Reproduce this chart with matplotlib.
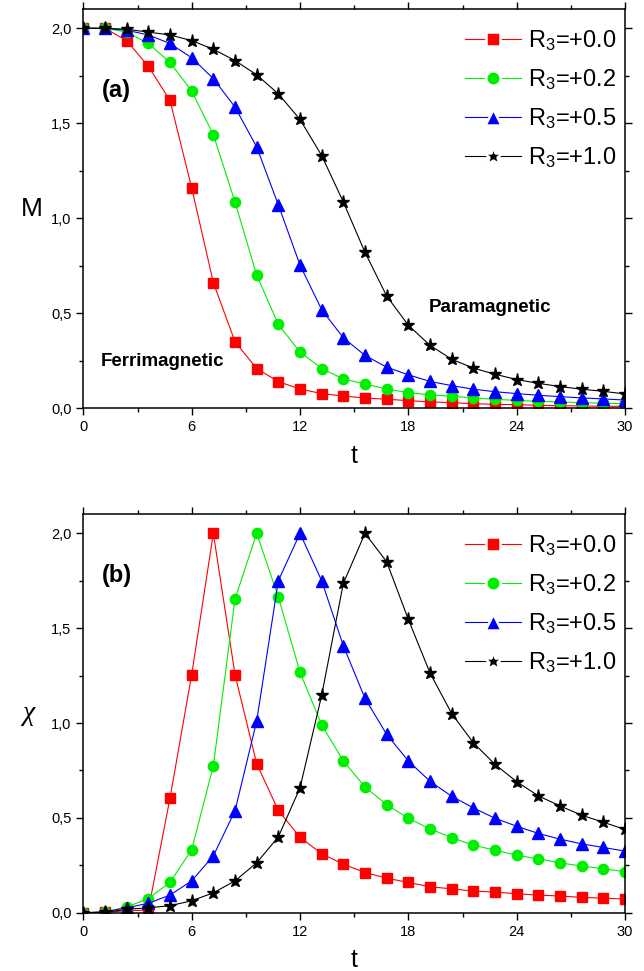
import numpy as np
import matplotlib
matplotlib.use('Agg')
import matplotlib.pyplot as plt
from matplotlib.ticker import MultipleLocator, FuncFormatter

plt.rcParams['font.family'] = ['Liberation Sans', 'DejaVu Sans']
plt.rcParams['mathtext.fontset'] = 'custom'
plt.rcParams['mathtext.rm'] = 'Liberation Sans'
plt.rcParams['mathtext.it'] = 'Liberation Sans:italic'

# temperature grid
t = [0.0, 1.2, 2.4, 3.6, 4.8, 6.0, 7.2, 8.4, 9.6, 10.8, 12.0, 13.2, 14.4,
     15.6, 16.8, 18.0, 19.2, 20.4, 21.6, 22.8, 24.0, 25.2, 26.4, 27.6, 28.8, 30.0]

labels = ['R$_3$=+0.0', 'R$_3$=+0.2', 'R$_3$=+0.5', 'R$_3$=+1.0']

# magnetization (a)
M_00 = [2.0, 2.0, 1.935, 1.80, 1.62, 1.16, 0.661, 0.349, 0.208, 0.139, 0.10, 0.076, 0.063,
        0.053, 0.046, 0.039, 0.032, 0.028, 0.023, 0.019, 0.018, 0.014, 0.012, 0.011, 0.009, 0.009]
M_02 = [2.0, 2.0, 1.98, 1.92, 1.82, 1.67, 1.44, 1.085, 0.70, 0.44, 0.295, 0.208, 0.153,
        0.127, 0.10, 0.081, 0.07, 0.062, 0.053, 0.046, 0.04, 0.035, 0.032, 0.028, 0.025, 0.023]
M_05 = [2.0, 2.0, 1.99, 1.965, 1.92, 1.845, 1.735, 1.585, 1.375, 1.07, 0.753, 0.518, 0.37,
        0.277, 0.215, 0.175, 0.14, 0.118, 0.099, 0.086, 0.076, 0.067, 0.06, 0.053, 0.048, 0.042]
M_10 = [2.0, 2.0, 1.995, 1.98, 1.965, 1.935, 1.89, 1.83, 1.755, 1.655, 1.52, 1.33, 1.085,
        0.82, 0.59, 0.436, 0.33, 0.257, 0.21, 0.178, 0.15, 0.13, 0.113, 0.099, 0.088, 0.074]

# susceptibility (b)
X_00 = [0.0, 0.002, 0.01, 0.014, 0.604, 1.255, 2.0, 1.255, 0.786, 0.539, 0.398, 0.311, 0.256,
        0.212, 0.182, 0.16, 0.137, 0.126, 0.114, 0.109, 0.1, 0.093, 0.088, 0.081, 0.077, 0.072]
X_02 = [0.0, 0.005, 0.03, 0.075, 0.16, 0.332, 0.774, 1.653, 2.0, 1.664, 1.268, 0.99, 0.8,
        0.663, 0.57, 0.498, 0.442, 0.396, 0.356, 0.33, 0.303, 0.284, 0.263, 0.246, 0.232, 0.216]
X_05 = [0.0, 0.005, 0.026, 0.05, 0.093, 0.168, 0.3, 0.537, 1.01, 1.75, 2.0, 1.75, 1.407,
        1.13, 0.94, 0.8, 0.693, 0.614, 0.553, 0.498, 0.456, 0.418, 0.388, 0.363, 0.344, 0.325]
X_10 = [0.0, 0.002, 0.018, 0.026, 0.037, 0.063, 0.105, 0.168, 0.263, 0.4, 0.658, 1.146, 1.736,
        2.0, 1.85, 1.546, 1.264, 1.05, 0.896, 0.782, 0.691, 0.616, 0.563, 0.514, 0.477, 0.439]

colors = ['#ff0000', '#00ee00', '#0000ff', '#000000']
markers = ['s', 'o', '^', '*']
msizes = [6.8, 7.4, 8.2, 9.5]
leg_extra = [3.0, 3.0, 3.0, 4.5]

fig = plt.figure(figsize=(6.44, 9.71), dpi=100)
ax1 = fig.add_axes([0.1294, 0.5798, 0.8411, 0.4106])
ax2 = fig.add_axes([0.1294, 0.0600, 0.8411, 0.4103])


def style(ax, tag, tag_y):
    ax.set_xlim(0, 30)
    ax.set_ylim(0, 2.1)
    ax.xaxis.set_major_locator(MultipleLocator(6))
    ax.xaxis.set_minor_locator(MultipleLocator(3))
    ax.yaxis.set_major_locator(MultipleLocator(0.5))
    ax.yaxis.set_minor_locator(MultipleLocator(0.25))
    ax.yaxis.set_major_formatter(FuncFormatter(lambda v, p: f"{v:.1f}".replace('.', ',')))
    ax.tick_params(which='both', direction='out', top=True, right=True,
                   labelsize=10.5, width=1.0)
    ax.tick_params(which='major', length=5)
    ax.tick_params(which='minor', length=3)
    for s in ax.spines.values():
        s.set_linewidth(1.1)
    ax.set_xlabel('t', fontsize=18, labelpad=7)
    ax.text(1.0, tag_y, tag, fontsize=17, fontweight='bold', ha='left', va='center')
    leg = ax.legend(loc='upper right', bbox_to_anchor=(0.985, 0.953), frameon=False,
                    fontsize=17, handlelength=2.4, handletextpad=0.3,
                    labelspacing=0.6, borderaxespad=0, borderpad=0)
    # small gap between line and marker, as in the original legend
    for h, ms, ex in zip(leg.legend_handles, msizes, leg_extra):
        h.set_markeredgecolor('white')
        h.set_markeredgewidth(1.8)
        h.set_markersize(ms + ex)
    return leg


for ys, c, m, ms, lab in zip([M_00, M_02, M_05, M_10], colors, markers, msizes, labels):
    ax1.plot(t, ys, color=c, marker=m, markersize=ms, lw=0.8, label=lab)
for ys, c, m, ms, lab in zip([X_00, X_02, X_05, X_10], colors, markers, msizes, labels):
    ax2.plot(t, ys, color=c, marker=m, markersize=ms, lw=0.8, label=lab)

style(ax1, '(a)', 1.67)
style(ax2, '(b)', 1.78)

ax1.set_ylabel('M', fontsize=19, rotation=0, labelpad=14, va='center')
ax2.set_ylabel('χ', fontsize=20, rotation=0, labelpad=16, va='center',
               family=['Liberation Serif', 'DejaVu Serif'], fontstyle='italic')

ax1.text(22.5, 0.53, 'Paramagnetic', fontsize=13.5, fontweight='bold', ha='center', va='center')
ax1.text(4.4, 0.244, 'Ferrimagnetic', fontsize=13.5, fontweight='bold', ha='center', va='center')

fig.savefig('out.png', dpi=100)
